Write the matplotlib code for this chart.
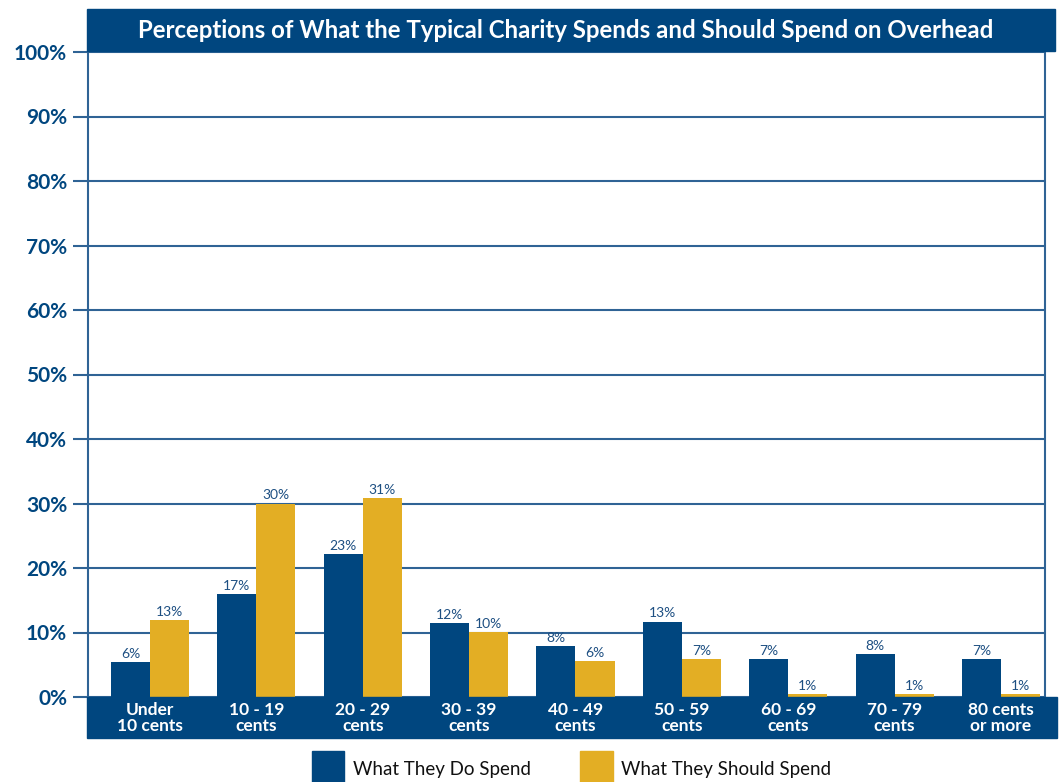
import numpy as np
import matplotlib
matplotlib.use("Agg")
import matplotlib.pyplot as plt
from matplotlib.patches import Rectangle

categories = ["Under\n10 cents", "10 - 19\ncents", "20 - 29\ncents", "30 - 39\ncents",
              "40 - 49\ncents", "50 - 59\ncents", "60 - 69\ncents", "70 - 79\ncents",
              "80 cents\nor more"]
# bar heights as drawn in the picture, and the printed labels
do_spend = [5.4, 16.0, 22.1, 11.4, 7.9, 11.7, 5.9, 6.7, 5.9]
should_spend = [11.9, 30.0, 30.8, 10.1, 5.6, 5.9, 0.5, 0.5, 0.5]
do_labels = ["6%", "17%", "23%", "12%", "8%", "13%", "7%", "8%", "7%"]
should_labels = ["13%", "30%", "31%", "10%", "6%", "7%", "1%", "1%", "1%"]
yticks = [0, 10, 20, 30, 40, 50, 60, 70, 80, 90, 100]

BLUE = "#00467f"
YELLOW = "#e3ae24"
GRID = "#2f6395"
LBL = "#1d4f82"

plt.rcParams['font.family'] = ['Lato', 'DejaVu Sans']

fig = plt.figure(figsize=(10.6, 7.82), dpi=100)
W, H = 1060, 782

def fx(px):
    return px / W

def fy(py):
    return 1 - py / H

ax = fig.add_axes([fx(88), fy(697), fx(1045) - fx(88), fy(52) - fy(697)])

x = np.arange(len(categories))
bw = 0.367
b1 = ax.bar(x - bw / 2, do_spend, bw, color=BLUE, zorder=3, label="What They Do Spend")
b2 = ax.bar(x + bw / 2, should_spend, bw, color=YELLOW, zorder=3, label="What They Should Spend")

for bars, labels in [(b1, do_labels), (b2, should_labels)]:
    for rect, lab in zip(bars, labels):
        ax.annotate(lab, (rect.get_x() + rect.get_width() / 2, rect.get_height()),
                    xytext=(0, 1.5), textcoords="offset points", ha="center", va="bottom",
                    fontsize=10, color=LBL)

ax.set_xlim(-0.583, 8.414)
ax.set_ylim(0, 100)
ax.set_yticks(yticks)
ax.set_yticklabels([f"{t}%" for t in yticks], fontsize=15, fontweight="bold", color=BLUE)
ax.tick_params(axis="y", length=11, width=1.5, color=GRID, pad=4)
ax.set_xticks([])
ax.grid(axis="y", color=GRID, linewidth=1.5, zorder=1)
for side in ["top", "bottom"]:
    ax.spines[side].set_visible(False)
ax.spines["left"].set_color(GRID)
ax.spines["left"].set_linewidth(1.5)
ax.spines["right"].set_color(GRID)
ax.spines["right"].set_linewidth(1.5)

# title band
fig.patches.append(Rectangle((fx(87), fy(51)), fx(1055) - fx(87), fy(9) - fy(51),
                             transform=fig.transFigure, color=BLUE, zorder=5))
fig.text(fx(566), fy(30), "Perceptions of What the Typical Charity Spends and Should Spend on Overhead",
         ha="center", va="center", color="white", fontsize=17.3, fontweight="bold", zorder=6)

# category band
fig.patches.append(Rectangle((fx(87), fy(738)), fx(1057) - fx(87), fy(697) - fy(738),
                             transform=fig.transFigure, color=BLUE, zorder=5))
for xi, cat in zip(x, categories):
    xd = ax.transData.transform((xi, 0))[0]
    xf = fig.transFigure.inverted().transform((xd, 0))[0]
    fig.text(xf, fy(718), cat, ha="center", va="center", color="white",
             fontsize=12.5, fontweight="bold", linespacing=0.95, zorder=6)

# legend
fig.patches.append(Rectangle((fx(312), fy(782)), fx(344) - fx(312), fy(751) - fy(782),
                             transform=fig.transFigure, color=BLUE))
fig.text(fx(353), fy(770), "What They Do Spend", ha="left", va="center", fontsize=13.5, color="#111111")
fig.patches.append(Rectangle((fx(580), fy(782)), fx(613) - fx(580), fy(751) - fy(782),
                             transform=fig.transFigure, color=YELLOW))
fig.text(fx(621), fy(770), "What They Should Spend", ha="left", va="center", fontsize=13.5, color="#111111")

fig.savefig("out.png", dpi=100)
